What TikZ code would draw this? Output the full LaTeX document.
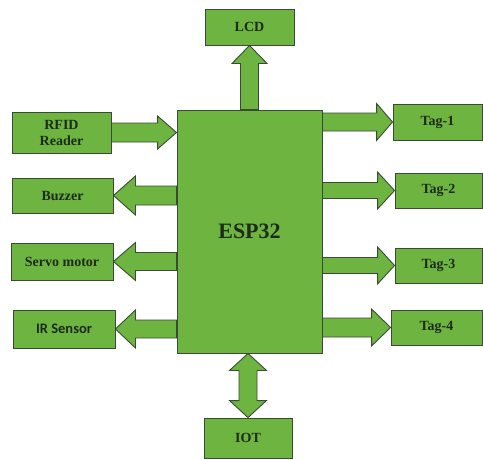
\documentclass[tikz,border=0pt]{standalone}
\usepackage{fontspec}
\setmainfont{Liberation Serif}
\newfontfamily\carl{Carlito}
\usetikzlibrary{calc}
\pgfdeclarelayer{background}
\pgfsetlayers{background,main}
\definecolor{boxfill}{HTML}{6DB540}
\definecolor{boxline}{HTML}{3A4A35}
\definecolor{txt}{HTML}{1E2A1C}
\tikzset{
  blk/.style={fill=boxfill, draw=boxline, line width=0.9pt, line join=miter},
  unitbox/.style={blk, inner sep=0pt, font=\bfseries\fontsize{14}{16}\selectfont, text=txt, align=center},
}
% single block arrow from #1 to #2: shaft half-width #3, head half-width #4, head length #5
\newcommand\blkarrow[5]{%
  \coordinate (hA) at ($(#2)!#5!(#1)$);
  \filldraw[blk] ($(#1)!#3!90:(#2)$) -- ($(hA)!#3!90:(#2)$) -- ($(hA)!#4!90:(#2)$) -- (#2)
    -- ($(hA)!#4!-90:(#2)$) -- ($(hA)!#3!-90:(#2)$) -- ($(#1)!#3!-90:(#2)$) -- cycle;}
% double block arrow between #1 and #2
\newcommand\dblarrow[5]{%
  \coordinate (hA) at ($(#1)!#5!(#2)$);
  \coordinate (hB) at ($(#2)!#5!(#1)$);
  \filldraw[blk] (#1) -- ($(hA)!#4!90:(#2)$) -- ($(hA)!#3!90:(#2)$) -- ($(hB)!#3!90:(#2)$)
    -- ($(hB)!#4!90:(#2)$) -- (#2) -- ($(hB)!#4!-90:(#2)$) -- ($(hB)!#3!-90:(#2)$)
    -- ($(hA)!#3!-90:(#2)$) -- ($(hA)!#4!-90:(#2)$) -- cycle;}
\begin{document}
\begin{tikzpicture}[x=1pt,y=-1pt]
\useasboundingbox (0,0) rectangle (483,459);
% boxes
\node[unitbox, minimum width=145pt, minimum height=243pt, font=\bfseries\fontsize{22}{24}\selectfont] (esp) at (249.5,231.5) {ESP32};
\node[unitbox, minimum width=89pt, minimum height=36pt] (lcd) at (249.5,27) {LCD};
\node[unitbox, minimum width=99pt, minimum height=41pt] (rfid) at (61.5,132.5) {RFID\\Reader};
\node[unitbox, minimum width=101pt, minimum height=35pt] (buz) at (62.5,195.5) {Buzzer};
\node[unitbox, minimum width=102pt, minimum height=37pt] (servo) at (62,261.5) {Servo motor};
\node[unitbox, minimum width=102pt, minimum height=38pt, font=\carl\bfseries\fontsize{14.5}{16}\selectfont] (ir) at (64,329) {IR Sensor};
\node[unitbox, minimum width=89pt, minimum height=36pt] (t1) at (437.5,122) {Tag-1};
\node[unitbox, minimum width=87pt, minimum height=35pt] (t2) at (438.5,190.5) {Tag-2};
\node[unitbox, minimum width=87pt, minimum height=35pt] (t3) at (438.5,265.5) {Tag-3};
\node[unitbox, minimum width=91pt, minimum height=35pt] (t4) at (436.5,327.5) {Tag-4};
\node[unitbox, minimum width=88pt, minimum height=40pt] (iot) at (248,438) {IOT};
% block arrows
\begin{pgfonlayer}{background}
\blkarrow{esp.north -| lcd.south}{lcd.south}{9pt}{17.5pt}{18pt}
\blkarrow{rfid.east}{esp.west |- rfid.east}{9.5pt}{16.5pt}{19pt}
\blkarrow{esp.west |- buz.east}{buz.east}{9.5pt}{19.5pt}{22pt}
\blkarrow{esp.west |- servo.east}{servo.east}{9pt}{19pt}{22pt}
\blkarrow{esp.west |- ir.east}{ir.east}{9pt}{19pt}{20pt}
\blkarrow{esp.east |- t1.west}{t1.west}{9pt}{18.5pt}{16pt}
\blkarrow{esp.east |- t2.west}{t2.west}{8pt}{18.5pt}{17pt}
\blkarrow{esp.east |- t3.west}{t3.west}{8pt}{18.5pt}{17pt}
\blkarrow{esp.east |- t4.west}{t4.west}{9.5pt}{18.5pt}{19pt}
\dblarrow{esp.south -| iot.north}{iot.north}{9pt}{18.5pt}{17pt}
\end{pgfonlayer}
\end{tikzpicture}
\end{document}
